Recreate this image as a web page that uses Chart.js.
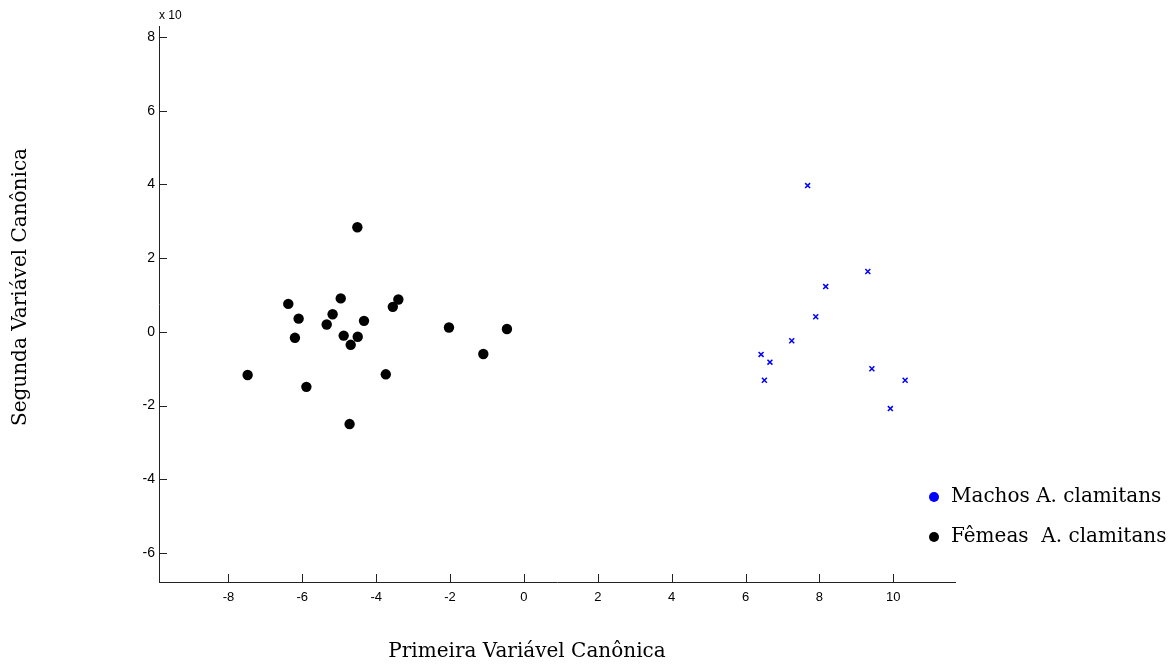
<!DOCTYPE html>
<html>
<head>
<meta charset="utf-8">
<script src="https://cdn.jsdelivr.net/npm/chart.js@4/dist/chart.umd.min.js"></script>
<style>
  html, body { margin: 0; padding: 0; background: #fff; }
  canvas { display: block; }
</style>
</head>
<body>
<canvas id="chart" width="1176" height="668"></canvas>
<script>
// machos (blue crosses)
const machosX = [7.68, 9.31, 8.17, 7.90, 7.25, 6.42, 6.66, 6.51, 9.42, 10.32, 9.92];
const machosY = [3.97, 1.64, 1.23, 0.41, -0.24, -0.61, -0.82, -1.31, -1.00, -1.31, -2.08];

// femeas (black dots)
const femeasX = [-4.51, -6.38, -4.96, -3.40, -3.55, -6.10, -5.18, -4.33, -5.34, -6.20,
	-4.88, -4.50, -4.69, -2.03, -0.46, -1.10, -7.48, -5.89, -3.74, -4.72];
const femeasY = [2.84, 0.76, 0.91, 0.88, 0.68, 0.36, 0.48, 0.30, 0.20, -0.16,
	-0.10, -0.13, -0.35, 0.12, 0.08, -0.60, -1.17, -1.49, -1.15, -2.50];

const xTicks = [-8, -6, -4, -2, 0, 2, 4, 6, 8, 10];
const yTicks = [-6, -4, -2, 0, 2, 4, 6, 8];

const legendLabels = ['Machos A. clamitans', 'Fêmeas  A. clamitans'];
const xTitle = 'Primeira Variável Canônica';
const yTitle = 'Segunda Variável Canônica';

const toPoints = (xs, ys) => xs.map((x, i) => ({ x: x, y: ys[i] }));

const serif = '"DejaVu Serif", "Liberation Serif", serif';
const sans = '"Liberation Sans", Arial, sans-serif';

// tick marks pointing inwards + titles + legend
const extras = {
	id: 'extras',
	afterDraw(chart) {
		const { ctx, chartArea } = chart;
		const xs = chart.scales.x;
		const ys = chart.scales.y;
		ctx.save();
		ctx.strokeStyle = '#222';
		ctx.lineWidth = 1;
		ctx.beginPath();
		xTicks.forEach((v) => {
			const px = Math.round(xs.getPixelForValue(v)) + 0.5;
			ctx.moveTo(px, chartArea.bottom);
			ctx.lineTo(px, chartArea.bottom - 8);
		});
		yTicks.forEach((v) => {
			const py = Math.round(ys.getPixelForValue(v)) + 0.5;
			ctx.moveTo(chartArea.left, py);
			ctx.lineTo(chartArea.left + 8, py);
		});
		ctx.stroke();

		// exponent label
		ctx.fillStyle = '#000';
		ctx.font = '12px ' + sans;
		ctx.textAlign = 'left';
		ctx.textBaseline = 'alphabetic';
		ctx.fillText('x 10', 159, 19);

		// axis titles
		ctx.font = '20px ' + serif;
		ctx.textAlign = 'center';
		ctx.textBaseline = 'middle';
		ctx.fillText(xTitle, 527, 652);
		ctx.save();
		ctx.translate(21, 287);
		ctx.rotate(-Math.PI / 2);
		ctx.fillText(yTitle, 0, 0);
		ctx.restore();

		// legend
		const colors = ['#0000ff', '#000000'];
		const rows = [497, 537];
		ctx.textAlign = 'left';
		legendLabels.forEach((label, i) => {
			ctx.fillStyle = colors[i];
			ctx.beginPath();
			ctx.arc(934, rows[i], 5, 0, Math.PI * 2);
			ctx.fill();
			ctx.fillStyle = '#000';
			ctx.fillText(label, 951, rows[i]);
		});
		ctx.restore();
	}
};

const chart = new Chart(document.getElementById('chart'), {
	type: 'scatter',
	data: {
		datasets: [
			{
				label: legendLabels[0],
				data: toPoints(machosX, machosY),
				pointStyle: 'crossRot',
				pointRadius: 3.5,
				borderColor: '#0000ff',
				backgroundColor: '#0000ff',
				borderWidth: 1.5
			},
			{
				label: legendLabels[1],
				data: toPoints(femeasX, femeasY),
				pointStyle: 'circle',
				pointRadius: 5.2,
				borderWidth: 0,
				backgroundColor: '#000'
			}
		]
	},
	plugins: [extras],
	options: {
		responsive: false,
		animation: false,
		layout: { padding: { left: 0, top: 26, right: 221, bottom: 0 } },
		plugins: {
			legend: { display: false },
			tooltip: { enabled: false }
		},
		scales: {
			x: {
				type: 'linear',
				min: -9.88,
				max: 11.67,
				afterBuildTicks: (s) => { s.ticks = xTicks.map((v) => ({ value: v })); },
				afterFit: (s) => { s.height = 86; },
				grid: { display: false, drawTicks: false },
				border: { display: true, color: '#222', width: 1 },
				ticks: { color: '#000', font: { family: sans, size: 13 }, padding: 8, maxRotation: 0 }
			},
			y: {
				type: 'linear',
				min: -6.785,
				max: 8.3,
				afterBuildTicks: (s) => { s.ticks = yTicks.map((v) => ({ value: v })); },
				afterFit: (s) => { s.width = 159; },
				grid: { display: false, drawTicks: false },
				border: { display: true, color: '#222', width: 1 },
				ticks: { color: '#000', font: { family: sans, size: 14 }, padding: 4 }
			}
		}
	}
});
</script>
</body>
</html>
